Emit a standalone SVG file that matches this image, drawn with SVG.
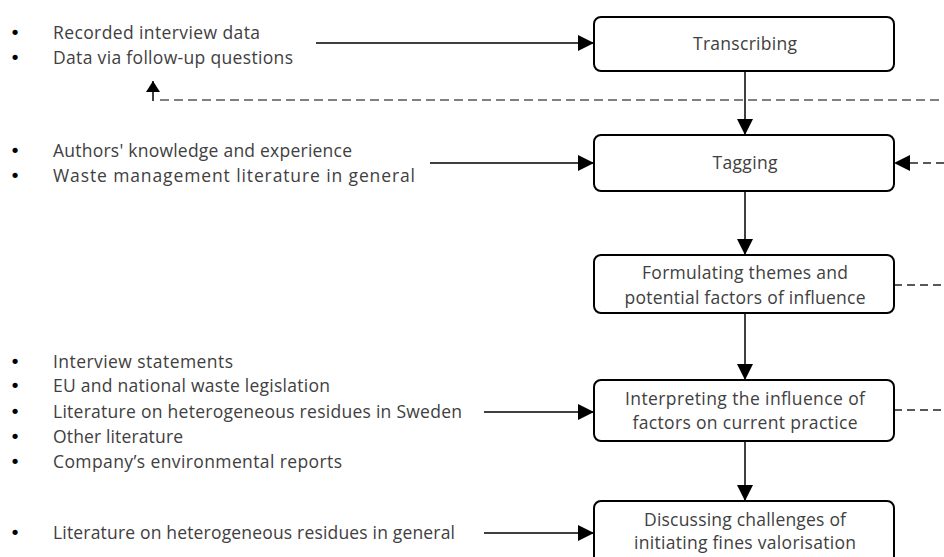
<svg xmlns="http://www.w3.org/2000/svg" width="944" height="557" viewBox="0 0 944 557">
<defs>
<style>
.t{font-family:"Open Sans","Noto Sans","DejaVu Sans",sans-serif;font-size:17.5px;fill:#404040}
.c{text-anchor:middle}
.b{font-family:"DejaVu Sans",sans-serif;font-size:18px;fill:#000;text-anchor:middle}
.box{fill:#fff;stroke:#000;stroke-width:2}
.ln{fill:none;stroke:#000;stroke-width:1.5}
.dk{fill:none;stroke:#222;stroke-width:1.5;stroke-dasharray:8 5}
.dg{fill:none;stroke:#808080;stroke-width:2;stroke-dasharray:9 5}
</style>
<marker id="ah" viewBox="0 0 16 16" refX="16" refY="8" markerWidth="16" markerHeight="16" orient="auto" markerUnits="userSpaceOnUse"><path d="M0,0 L16,8 L0,16 z" fill="#000"/></marker>
<marker id="ahs" viewBox="0 0 11 14" refX="11" refY="7" markerWidth="11" markerHeight="14" orient="auto" markerUnits="userSpaceOnUse"><path d="M0,0 L11,7 L0,14 z" fill="#000"/></marker>
</defs>
<rect width="944" height="557" fill="#fff"/>

<g id="connectors">
<path class="ln" d="M316,43 H594" marker-end="url(#ah)"/>
<path class="ln" d="M430,163 H594" marker-end="url(#ah)"/>
<path class="ln" d="M484,412 H594" marker-end="url(#ah)"/>
<path class="ln" d="M484,533 H594" marker-end="url(#ah)"/>
<path class="ln" d="M745,71 V135" marker-end="url(#ah)"/>
<path class="ln" d="M745,191 V255" marker-end="url(#ah)"/>
<path class="ln" d="M745,313 V380" marker-end="url(#ah)"/>
<path class="ln" d="M745,441 V501" marker-end="url(#ah)"/>
<path class="dg" d="M160,100 H944"/>
<path class="ln" d="M153,101 V81" marker-end="url(#ahs)"/>
<path class="dk" d="M944,163 H894" marker-end="url(#ah)"/>
<path class="dk" d="M894,285 H944"/>
<path class="dk" d="M894,410 H944"/>
</g>

<g id="input-transcribing">
<text class="b" x="15" y="39">•</text><text class="t" x="53" y="39" textLength="207" lengthAdjust="spacing">Recorded interview data</text>
<text class="b" x="15" y="64">•</text><text class="t" x="53" y="64" textLength="240" lengthAdjust="spacing">Data via follow-up questions</text>
</g>
<g id="input-tagging">
<text class="b" x="15" y="157">•</text><text class="t" x="53" y="157" textLength="299" lengthAdjust="spacing">Authors' knowledge and experience</text>
<text class="b" x="15" y="182">•</text><text class="t" x="53" y="182" textLength="362" lengthAdjust="spacing">Waste management literature in general</text>
</g>
<g id="input-interpreting">
<text class="b" x="15" y="368">•</text><text class="t" x="53" y="368" textLength="180" lengthAdjust="spacing">Interview statements</text>
<text class="b" x="15" y="392">•</text><text class="t" x="53" y="392" textLength="277" lengthAdjust="spacing">EU and national waste legislation</text>
<text class="b" x="15" y="418">•</text><text class="t" x="53" y="418" textLength="409" lengthAdjust="spacing">Literature on heterogeneous residues in Sweden</text>
<text class="b" x="15" y="443">•</text><text class="t" x="53" y="443" textLength="130" lengthAdjust="spacing">Other literature</text>
<text class="b" x="15" y="468">•</text><text class="t" x="53" y="468" textLength="289" lengthAdjust="spacing">Company’s environmental reports</text>
</g>
<g id="input-discussing">
<text class="b" x="15" y="539">•</text><text class="t" x="53" y="539" textLength="402" lengthAdjust="spacing">Literature on heterogeneous residues in general</text>
</g>

<g id="transcribing">
<rect class="box" x="594" y="17" width="300" height="54" rx="7"/>
<text class="t c" x="745" y="50" textLength="104" lengthAdjust="spacing">Transcribing</text>
</g>
<g id="tagging">
<rect class="box" x="594" y="135" width="300" height="56" rx="7"/>
<text class="t c" x="745" y="169" textLength="65" lengthAdjust="spacing">Tagging</text>
</g>
<g id="formulating">
<rect class="box" x="594" y="255" width="300" height="58" rx="7"/>
<text class="t c" x="745" y="279" textLength="206" lengthAdjust="spacing">Formulating themes and</text>
<text class="t c" x="745" y="304" textLength="241" lengthAdjust="spacing">potential factors of influence</text>
</g>
<g id="interpreting">
<rect class="box" x="594" y="380" width="300" height="61" rx="7"/>
<text class="t c" x="745" y="405" textLength="240" lengthAdjust="spacing">Interpreting the influence of</text>
<text class="t c" x="745" y="429" textLength="225" lengthAdjust="spacing">factors on current practice</text>
</g>
<g id="discussing">
<rect class="box" x="594" y="501" width="300" height="62" rx="7"/>
<text class="t c" x="745" y="526" textLength="202" lengthAdjust="spacing">Discussing challenges of</text>
<text class="t c" x="745" y="549" textLength="222" lengthAdjust="spacing">initiating fines valorisation</text>
</g>
</svg>
